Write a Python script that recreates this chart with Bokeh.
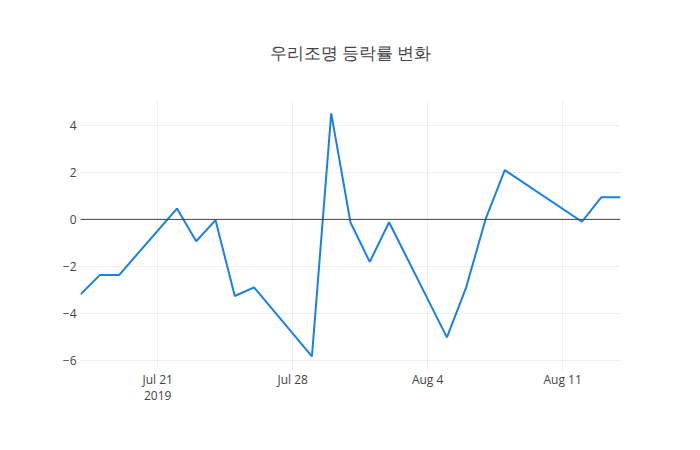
import pandas as pd
from bokeh.plotting import figure
from bokeh.models import FixedTicker, Span, Range1d
from bokeh.embed import file_html
from bokeh.resources import INLINE

# ---- data ----
dates = ["2019-07-17", "2019-07-18", "2019-07-19", "2019-07-22", "2019-07-23",
         "2019-07-24", "2019-07-25", "2019-07-26", "2019-07-29", "2019-07-30",
         "2019-07-31", "2019-08-01", "2019-08-02", "2019-08-05", "2019-08-06",
         "2019-08-07", "2019-08-08", "2019-08-12", "2019-08-13", "2019-08-14"]
change_pct = [-3.19, -2.37, -2.37, 0.46, -0.93,
              -0.03, -3.26, -2.89, -5.83, 4.51,
              -0.13, -1.81, -0.12, -5.02, -2.89,
              0.0, 2.10, -0.10, 0.94, 0.94]
x_tick_dates = ["2019-07-21", "2019-07-28", "2019-08-04", "2019-08-11"]
x_tick_labels = ["Jul 21\n2019", "Jul 28", "Aug 4", "Aug 11"]
y_ticks = [-6, -4, -2, 0, 2, 4]
title_text = "우리조명 등락률 변화"

base = pd.Timestamp("2019-07-01")
xs = [(pd.Timestamp(d) - base).days for d in dates]
xt = [(pd.Timestamp(d) - base).days for d in x_tick_dates]

FONT = "Open Sans"
TXT = "#444444"

p = figure(width=700, height=450, output_backend="svg", toolbar_location=None,
           min_border_left=80, min_border_right=80, min_border_top=100,
           min_border_bottom=80, background_fill_color="white",
           border_fill_color="white", outline_line_color=None)

p.x_range = Range1d(min(xs), max(xs))
p.y_range = Range1d(-6.43, 5.06)

p.title.text = title_text
p.title.align = "center"
p.title.text_font = FONT
p.title.text_font_size = "17px"
p.title.text_font_style = "normal"
p.title.text_color = TXT
p.title.standoff = 74

p.line(xs, change_pct, line_color="#1780ec", line_width=2)

p.add_layout(Span(location=0, dimension="width", line_color="#444444", line_width=1))

p.xaxis.ticker = FixedTicker(ticks=xt)
p.xaxis.major_label_overrides = {t: l for t, l in zip(xt, x_tick_labels)}
p.yaxis.ticker = FixedTicker(ticks=y_ticks)
p.yaxis.major_label_overrides = {t: (str(t).replace("-", "\u2212")) for t in y_ticks}

for ax in (p.xaxis[0], p.yaxis[0]):
    ax.axis_line_color = None
    ax.major_tick_line_color = None
    ax.minor_tick_line_color = None
    ax.major_tick_out = 0
    ax.major_tick_in = 0
    ax.minor_tick_out = 0
    ax.major_label_text_font = FONT
    ax.major_label_text_font_size = "12px"
    ax.major_label_text_color = TXT
p.xaxis.major_label_text_line_height = 0.95
p.xaxis.major_label_standoff = 0
p.yaxis.major_label_standoff = 4

p.xgrid.grid_line_color = "#eeeeee"
p.ygrid.grid_line_color = "#eeeeee"
p.xgrid.grid_line_width = 1
p.ygrid.grid_line_width = 1

open("out.html", "w").write(file_html(p, INLINE))
